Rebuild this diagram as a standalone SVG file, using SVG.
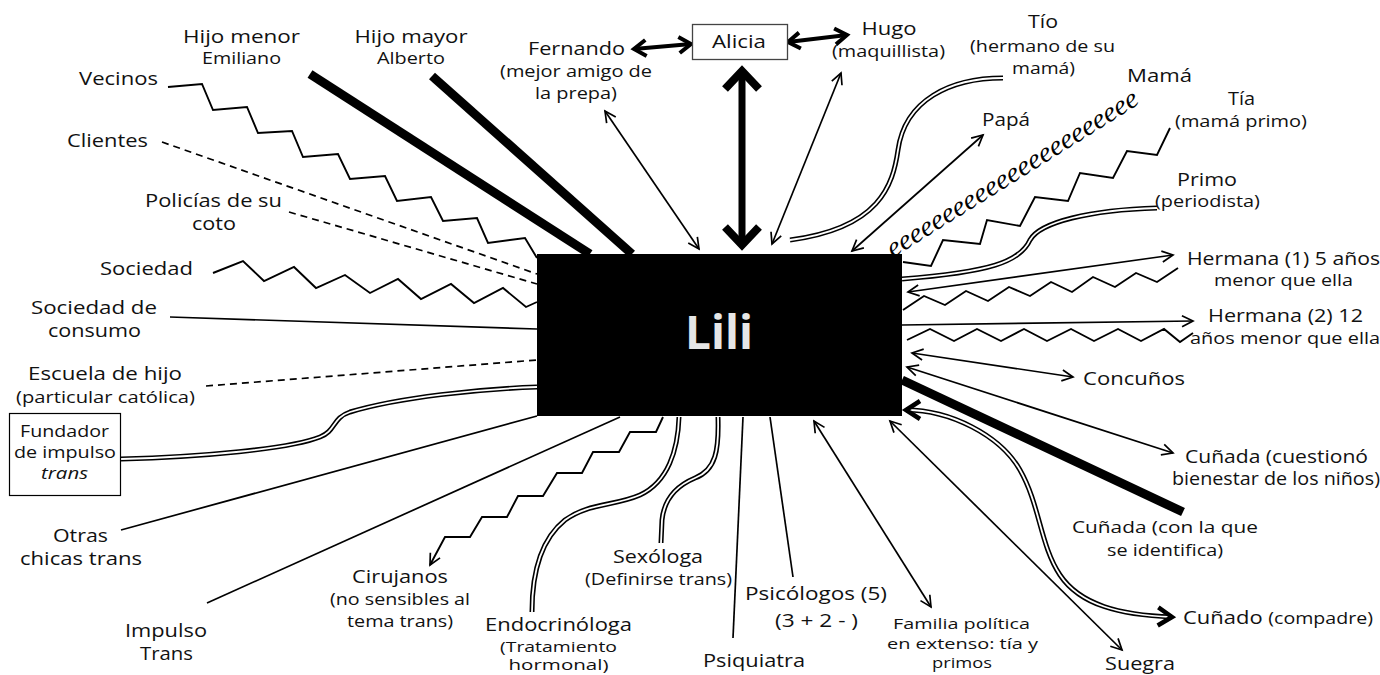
<svg xmlns="http://www.w3.org/2000/svg" width="1380" height="675" viewBox="0 0 1380 675">
<style>
.t{font-family:"Open Sans","Liberation Sans",sans-serif;font-size:18.5px;fill:#111;text-anchor:middle}
.s{font-size:16.5px}
.xs{font-size:15.3px}
.ln{stroke:#000;fill:none;stroke-width:1.7}
.thk{stroke:#000;fill:none;stroke-width:9}
.dash{stroke:#000;fill:none;stroke-width:1.7;stroke-dasharray:7 5}
.zz{stroke:#000;fill:none;stroke-width:1.9;stroke-linejoin:miter}
.dbo{stroke:#000;fill:none;stroke-width:5}
.dbi{stroke:#fff;fill:none;stroke-width:1.8}
.nil{stroke:none;fill:none}
</style>
<defs>
<marker id="ah" viewBox="0 0 14 14" refX="13" refY="7" markerWidth="14" markerHeight="14" markerUnits="userSpaceOnUse" orient="auto-start-reverse" overflow="visible"><path d="M2,1.5 L13,7 L2,12.5" fill="none" stroke="#000" stroke-width="1.7"/></marker>
<marker id="hb" viewBox="0 0 20 20" refX="17" refY="10" markerWidth="20" markerHeight="20" markerUnits="userSpaceOnUse" orient="auto-start-reverse" overflow="visible"><path d="M5,2 L17,10 L5,18" fill="none" stroke="#000" stroke-width="4"/></marker>
<marker id="hc" viewBox="0 0 24 22" refX="18" refY="11" markerWidth="24" markerHeight="22" markerUnits="userSpaceOnUse" orient="auto-start-reverse" overflow="visible"><path d="M4,2 L18,11 L4,20" fill="none" stroke="#000" stroke-width="4.5"/></marker>
</defs>
<rect width="1380" height="675" fill="#fff"/>
<g id="connectors">
<path class="thk" d="M310,74 L590,254"/>
<path class="thk" d="M432,76 L632,254"/>
<polyline class="zz" points="168,87 202,84 213,110 247,107 258,133 292,131 303,157 338,154 350,179 385,176 397,201 431,197 443,221 477,218 488,243 525,238 537,258"/>
<path class="dash" d="M162,142 L537,274"/>
<path class="dash" d="M289,212 L537,284"/>
<polyline class="zz" points="213,273 243,261 264,281 294,267 316,288 345,275 370,293 398,279 421,299 451,284 474,303 503,288 526,307 537,302"/>
<path class="ln" d="M170,317 L537,329"/>
<path class="dash" d="M206,386 L537,360"/>
<path class="dbo" d="M121,459 C200,457 290,449 320,437 C336,431 332,418 350,412 C400,397 480,389 537,387"/>
<path class="dbi" d="M121,459 C200,457 290,449 320,437 C336,431 332,418 350,412 C400,397 480,389 537,387"/>
<path class="ln" d="M121,530 L537,416"/>
<path class="ln" d="M207,603 L620,417"/>
<polyline class="zz" marker-end="url(#ah)" points="663,417 656,432 630,432 619,452 593,452 582,473 557,473 543,496 518,496 507,517 482,517 470,537 445,537 430,565"/>
<path class="dbo" d="M679,417 C678,450 668,482 640,495 C615,506 588,503 565,520 C540,540 532,575 532,612"/>
<path class="dbi" d="M679,417 C678,450 668,482 640,495 C615,506 588,503 565,520 C540,540 532,575 532,612"/>
<path class="dbo" d="M718,417 C719,450 716,470 695,478 C676,486 664,500 662,520 L661,543"/>
<path class="dbi" d="M718,417 C719,450 716,470 695,478 C676,486 664,500 662,520 L661,543"/>
<path class="ln" d="M743,417 L733,638"/>
<path class="ln" d="M770,417 L793,577"/>
<path class="ln" marker-start="url(#ah)" marker-end="url(#ah)" d="M814,421 L931,607"/>
<path class="ln" marker-start="url(#ah)" marker-end="url(#ah)" d="M890,421 L1122,650"/>
<path class="dbo" d="M906,410 C950,410 1000,435 1020,470 C1040,505 1040,545 1060,575 C1080,605 1120,615 1172,617"/>
<path class="dbi" d="M906,410 C950,410 1000,435 1020,470 C1040,505 1040,545 1060,575 C1080,605 1120,615 1172,617"/>
<path class="nil" marker-start="url(#hc)" marker-end="url(#hc)" d="M906,410 C950,410 1000,435 1020,470 C1040,505 1040,545 1060,575 C1080,605 1120,615 1172,617"/>
<path class="thk" d="M902,380 L1183,512"/>
<path class="ln" marker-start="url(#ah)" marker-end="url(#ah)" d="M907,367 L1173,453"/>
<path class="ln" marker-start="url(#ah)" marker-end="url(#ah)" d="M912,353 L1073,377"/>
<path class="ln" marker-end="url(#ah)" d="M902,325 L1193,321"/>
<polyline class="zz" points="907,340 930,329 954,341 977,329 1001,341 1024,329 1047,341 1071,329 1094,341 1118,329 1141,341 1164,329 1180,342 1193,333"/>
<path class="ln" marker-start="url(#ah)" marker-end="url(#ah)" d="M908,292 L1173,255"/>
<polyline class="zz" points="903,310 924,296 945,305 966,291 988,301 1009,287 1030,296 1051,282 1072,292 1093,277 1115,287 1136,273 1157,282 1178,268"/>
<path class="dbo" d="M1157,208 C1090,210 1040,222 1030,240 C1020,262 990,272 902,279"/>
<path class="dbi" d="M1157,208 C1090,210 1040,222 1030,240 C1020,262 990,272 902,279"/>
<polyline class="zz" points="1170,128 1157,155 1127,151 1113,178 1080,173 1068,201 1035,197 1020,226 987,220 980,244 943,240 931,266 903,262"/>
<text transform="translate(893,258) rotate(-32)" font-family="Liberation Serif, serif" font-style="italic" font-size="28" fill="#000" textLength="292" lengthAdjust="spacingAndGlyphs">eeeeeeeeeeeeeeeeeeeeeee</text>
<path class="ln" marker-start="url(#ah)" marker-end="url(#ah)" d="M852,251 L983,135"/>
<path class="dbo" d="M1003,78 C950,78 905,100 898,150 C893,185 880,228 790,240"/>
<path class="dbi" d="M1003,78 C950,78 905,100 898,150 C893,185 880,228 790,240"/>
<path class="ln" marker-start="url(#ah)" marker-end="url(#ah)" d="M772,244 L841,73"/>
<path stroke="#000" stroke-width="7" fill="none" d="M742,76 L742,240"/>
<polyline points="725,89 742,71 759,89" fill="none" stroke="#000" stroke-width="8"/>
<polyline points="725,227 742,245 759,227" fill="none" stroke="#000" stroke-width="8"/>
<path stroke="#000" stroke-width="4" fill="none" marker-start="url(#hb)" marker-end="url(#hb)" d="M634,49 L691,44"/>
<path stroke="#000" stroke-width="4" fill="none" marker-start="url(#hb)" marker-end="url(#hb)" d="M788,42 L847,35"/>
<path class="ln" marker-start="url(#ah)" marker-end="url(#ah)" d="M605,111 L699,249"/>
</g>
<g id="lili"><rect x="537" y="254" width="365" height="162" fill="#000"/><text class="t" x="719" y="349" style="font-size:46px;font-weight:bold;fill:#e6e6e6" textLength="68" lengthAdjust="spacingAndGlyphs">Lili</text></g>
<g id="alicia"><rect x="692.5" y="24.5" width="95" height="35" fill="#fff" stroke="#444" stroke-width="1.3"/><text class="t" x="739" y="48" textLength="54" lengthAdjust="spacingAndGlyphs">Alicia</text></g>
<g id="hijo-menor"><text class="t" x="241.5" y="43" textLength="117" lengthAdjust="spacingAndGlyphs">Hijo menor</text><text class="t s" x="241.5" y="64" textLength="79" lengthAdjust="spacingAndGlyphs">Emiliano</text></g>
<g id="hijo-mayor"><text class="t" x="411" y="43" textLength="113" lengthAdjust="spacingAndGlyphs">Hijo mayor</text><text class="t s" x="411" y="64" textLength="68" lengthAdjust="spacingAndGlyphs">Alberto</text></g>
<g id="vecinos"><text class="t" x="118.5" y="85" textLength="79" lengthAdjust="spacingAndGlyphs">Vecinos</text></g>
<g id="clientes"><text class="t" x="107.5" y="147" textLength="81" lengthAdjust="spacingAndGlyphs">Clientes</text></g>
<g id="policias"><text class="t" x="213.5" y="207" textLength="137" lengthAdjust="spacingAndGlyphs">Policías de su</text><text class="t" x="214" y="230" textLength="44" lengthAdjust="spacingAndGlyphs">coto</text></g>
<g id="sociedad"><text class="t" x="146.5" y="275" textLength="93" lengthAdjust="spacingAndGlyphs">Sociedad</text></g>
<g id="sociedad-consumo"><text class="t" x="94" y="314" textLength="126" lengthAdjust="spacingAndGlyphs">Sociedad de</text><text class="t" x="94.5" y="337" textLength="93" lengthAdjust="spacingAndGlyphs">consumo</text></g>
<g id="escuela"><text class="t" x="105" y="380" textLength="154" lengthAdjust="spacingAndGlyphs">Escuela de hijo</text><text class="t s" x="105.5" y="403" textLength="179" lengthAdjust="spacingAndGlyphs">(particular católica)</text></g>
<g id="fundador"><rect x="9.5" y="413.5" width="111" height="82" fill="#fff" stroke="#000" stroke-width="1.2"/><text class="t s" x="64.5" y="437" textLength="89" lengthAdjust="spacingAndGlyphs">Fundador</text><text class="t s" x="65" y="458" textLength="102" lengthAdjust="spacingAndGlyphs">de impulso</text><text class="t s" x="64.5" y="479" font-style="italic" textLength="47" lengthAdjust="spacingAndGlyphs">trans</text></g>
<g id="otras"><text class="t" x="80.5" y="542" textLength="55" lengthAdjust="spacingAndGlyphs">Otras</text><text class="t" x="81" y="565" textLength="122" lengthAdjust="spacingAndGlyphs">chicas trans</text></g>
<g id="impulso"><text class="t" x="166" y="637" textLength="82" lengthAdjust="spacingAndGlyphs">Impulso</text><text class="t" x="166.5" y="660" textLength="53" lengthAdjust="spacingAndGlyphs">Trans</text></g>
<g id="cirujanos"><text class="t" x="400" y="583" textLength="96" lengthAdjust="spacingAndGlyphs">Cirujanos</text><text class="t s" x="400" y="605" textLength="140" lengthAdjust="spacingAndGlyphs">(no sensibles al</text><text class="t s" x="400" y="627" textLength="106" lengthAdjust="spacingAndGlyphs">tema trans)</text></g>
<g id="endocrinologa"><text class="t" x="558.5" y="631" textLength="147" lengthAdjust="spacingAndGlyphs">Endocrinóloga</text><text class="t xs" x="558.5" y="652" textLength="117" lengthAdjust="spacingAndGlyphs">(Tratamiento</text><text class="t xs" x="558.5" y="670" textLength="100" lengthAdjust="spacingAndGlyphs">hormonal)</text></g>
<g id="sexologa"><text class="t" x="658" y="563" textLength="90" lengthAdjust="spacingAndGlyphs">Sexóloga</text><text class="t s" x="658.5" y="585" textLength="147" lengthAdjust="spacingAndGlyphs">(Definirse trans)</text></g>
<g id="psiquiatra"><text class="t" x="754" y="667" textLength="102" lengthAdjust="spacingAndGlyphs">Psiquiatra</text></g>
<g id="psicologos"><text class="t" x="816" y="600" textLength="142" lengthAdjust="spacingAndGlyphs">Psicólogos (5)</text><text class="t" x="816.5" y="627" textLength="83" lengthAdjust="spacingAndGlyphs">(3 + 2 - )</text></g>
<g id="familia"><text class="t xs" x="961.5" y="629" textLength="137" lengthAdjust="spacingAndGlyphs">Familia política</text><text class="t xs" x="962.5" y="649" textLength="151" lengthAdjust="spacingAndGlyphs">en extenso: tía y</text><text class="t xs" x="962" y="668" textLength="60" lengthAdjust="spacingAndGlyphs">primos</text></g>
<g id="suegra"><text class="t" x="1140" y="670" textLength="70" lengthAdjust="spacingAndGlyphs">Suegra</text></g>
<g id="cunado"><text class="t" x="1278" y="624" textLength="190" lengthAdjust="spacingAndGlyphs">Cuñado <tspan style="font-size:16.5px">(compadre)</tspan></text></g>
<g id="cunada-identifica"><text class="t" x="1165" y="533" style="font-size:16.5px" textLength="186" lengthAdjust="spacingAndGlyphs">Cuñada (con la que</text><text class="t" x="1165" y="556" style="font-size:16.5px" textLength="116" lengthAdjust="spacingAndGlyphs">se identifica)</text></g>
<g id="cunada-cuestiono"><text class="t" x="1276.5" y="463" style="font-size:17.5px" textLength="183" lengthAdjust="spacingAndGlyphs">Cuñada (cuestionó</text><text class="t" x="1276" y="485" style="font-size:17.5px" textLength="208" lengthAdjust="spacingAndGlyphs">bienestar de los niños)</text></g>
<g id="concunos"><text class="t" x="1134" y="385" textLength="102" lengthAdjust="spacingAndGlyphs">Concuños</text></g>
<g id="hermana2"><text class="t" x="1285.5" y="322" style="font-size:17.5px" textLength="155" lengthAdjust="spacingAndGlyphs">Hermana (2) 12</text><text class="t" x="1285" y="344" style="font-size:15.5px" textLength="190" lengthAdjust="spacingAndGlyphs">años menor que ella</text></g>
<g id="hermana1"><text class="t" x="1283.5" y="265" textLength="193" lengthAdjust="spacingAndGlyphs">Hermana (1) 5 años</text><text class="t s" x="1283.5" y="286" textLength="139" lengthAdjust="spacingAndGlyphs">menor que ella</text></g>
<g id="primo"><text class="t" x="1207" y="186" textLength="60" lengthAdjust="spacingAndGlyphs">Primo</text><text class="t s" x="1207.5" y="207" textLength="105" lengthAdjust="spacingAndGlyphs">(periodista)</text></g>
<g id="tia"><text class="t" x="1241.5" y="105" textLength="27" lengthAdjust="spacingAndGlyphs">Tía</text><text class="t s" x="1241" y="127" textLength="132" lengthAdjust="spacingAndGlyphs">(mamá primo)</text></g>
<g id="mama"><text class="t" x="1159.5" y="82" textLength="65" lengthAdjust="spacingAndGlyphs">Mamá</text></g>
<g id="papa"><text class="t" x="1006" y="126" textLength="48" lengthAdjust="spacingAndGlyphs">Papá</text></g>
<g id="tio"><text class="t" x="1043" y="28" textLength="30" lengthAdjust="spacingAndGlyphs">Tío</text><text class="t s" x="1042.5" y="52" textLength="145" lengthAdjust="spacingAndGlyphs">(hermano de su</text><text class="t s" x="1043.5" y="74" textLength="63" lengthAdjust="spacingAndGlyphs">mamá)</text></g>
<g id="hugo"><text class="t" x="889" y="35" textLength="55" lengthAdjust="spacingAndGlyphs">Hugo</text><text class="t s" x="888.5" y="57" textLength="113" lengthAdjust="spacingAndGlyphs">(maquillista)</text></g>
<g id="fernando"><text class="t" x="576.5" y="55" textLength="97" lengthAdjust="spacingAndGlyphs">Fernando</text><text class="t s" x="576" y="77" textLength="152" lengthAdjust="spacingAndGlyphs">(mejor amigo de</text><text class="t s" x="576" y="99" textLength="82" lengthAdjust="spacingAndGlyphs">la prepa)</text></g>
</svg>
